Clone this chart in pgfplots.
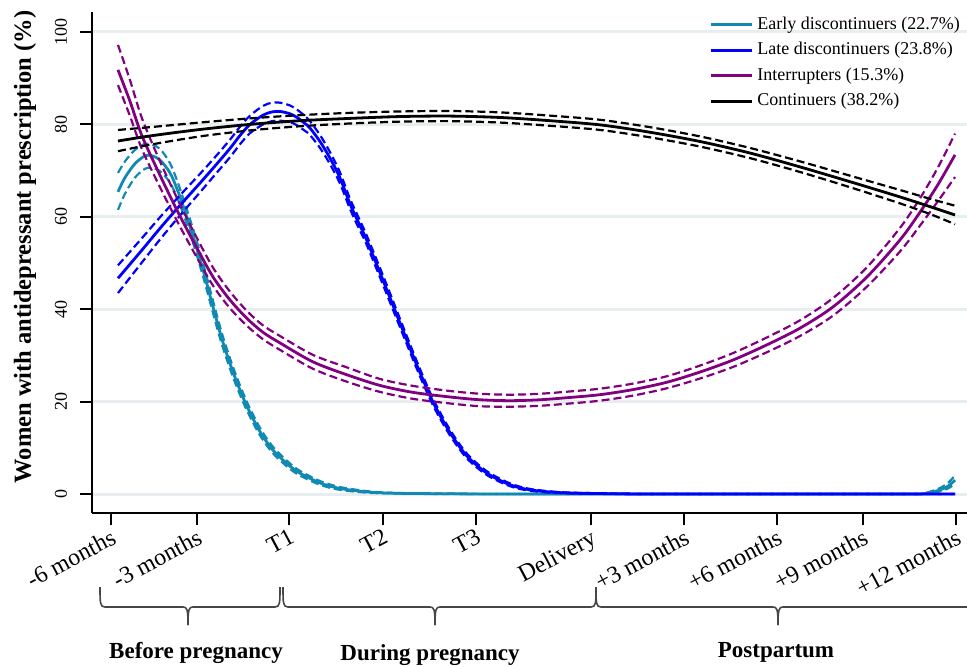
\documentclass[border=0pt]{standalone}
\usepackage{pgfplots}
\usepackage{pgfplotstable}
\pgfplotsset{compat=1.18}
\usepackage{fontspec}
\setmainfont{Liberation Serif}
\definecolor{cteal}{RGB}{16,138,178}
\definecolor{cblue}{RGB}{0,0,255}
\definecolor{cpurple}{RGB}{128,0,128}
\definecolor{cgrid}{RGB}{232,238,240}
\definecolor{cbrace}{RGB}{70,70,70}

% x = position along the time axis (tick positions below), m = estimate, lo/hi = 95% CI
\pgfplotstableread{
x m lo hi
118 65.4 61.5 69.5
125 68.5 65.0 72.0
135 71.5 68.5 74.5
145 73.2 70.4 75.8
152 73.2 70.6 75.6
160 72.3 69.9 74.7
170 69.5 67.4 71.6
178 65.5 63.7 67.3
186 60.5 58.9 62.1
195 54.5 53.0 56.0
205 47.0 45.6 48.4
213 40.5 39.2 41.8
222 33.5 32.3 34.7
232 27.0 25.9 28.1
240 22.5 21.5 23.5
248 18.5 17.6 19.4
260 13.5 12.7 14.3
273 9.5 8.8 10.2
289 6.2 5.6 6.8
300 4.5 4.0 5.0
320 2.4 2.0 2.8
340 1.2 0.9 1.5
370 0.4 0.25 0.55
400 0.15 0.1 0.2
450 0.05 0.0 0.1
500 0 0 0
600 0 0 0
700 0 0 0
800 0 0 0
900 0 0 0
920 0 0 0
930 0.3 0.2 0.5
940 0.9 0.6 1.3
948 1.7 1.2 2.4
955 3.0 2.2 4.0
}\early

\pgfplotstableread{
x m lo hi
118 46.7 43.5 49.5
140 52.3 49.6 54.9
160 57.5 55.1 59.9
178 62.0 59.8 64.2
200 67.3 65.3 69.3
215 71.0 69.1 72.9
230 74.8 72.9 76.7
240 77.6 75.7 79.5
250 80.0 78.1 81.9
263 82.0 80.0 84.0
272 82.7 80.7 84.7
280 82.8 80.8 84.7
290 82.3 80.5 84.1
297 81.5 79.8 83.2
305 80.2 78.6 81.8
310 79.2 77.7 80.7
320 76.3 74.9 77.7
330 72.7 71.4 74.0
340 68.4 67.2 69.6
350 62.8 61.7 63.9
358 59.0 57.9 60.1
367 54.8 53.8 55.8
385 45.2 44.2 46.2
400 37.0 36.1 37.9
418 27.3 26.5 28.1
433 19.9 19.2 20.6
450 13.3 12.7 13.9
467 8.2 7.7 8.7
487 4.5 4.1 4.9
510 2.0 1.7 2.3
530 0.9 0.7 1.1
560 0.3 0.2 0.4
600 0.1 0.05 0.15
650 0 0 0
750 0 0 0
850 0 0 0
955 0 0 0
}\late

\pgfplotstableread{
x m lo hi
118 91.8 88.5 97.2
130 85.0 81.8 89.6
142 77.5 74.6 81.3
160 69.0 66.4 72.0
178 61.0 58.7 63.6
195 54.0 51.9 56.2
213 47.0 45.1 49.0
230 42.0 40.2 43.8
247 38.0 36.4 39.6
263 35.0 33.5 36.5
280 32.7 31.2 34.2
313 28.6 27.1 30.1
347 25.8 24.3 27.4
380 23.5 22.1 24.9
413 22.0 20.6 23.4
450 21.0 19.6 22.3
480 20.4 19.0 21.7
510 20.2 18.9 21.5
540 20.4 19.1 21.7
570 20.9 19.6 22.2
600 21.5 20.2 22.8
633 22.6 21.3 23.9
667 24.2 22.9 25.5
700 26.4 25.0 27.8
733 29.0 27.5 30.5
767 32.3 30.7 33.9
800 35.9 34.2 37.6
833 40.5 38.6 42.4
867 47.0 44.9 49.1
900 55.0 52.5 57.6
920 61.0 58.1 64.0
938 67.0 63.4 70.7
955 73.4 68.6 78.0
}\interr

\pgfplotstableread{
x m lo hi
118 76.4 74.2 78.8
150 77.5 75.6 79.4
200 78.9 77.4 80.4
250 80.0 78.7 81.3
300 80.8 79.6 82.0
350 81.3 80.2 82.5
400 81.7 80.6 82.8
450 81.8 80.7 82.9
500 81.5 80.4 82.6
550 80.8 79.7 81.9
600 79.9 78.8 81.0
650 78.3 77.2 79.4
700 76.3 75.2 77.4
750 73.8 72.7 74.9
800 70.8 69.7 72.0
850 67.6 66.4 68.9
900 64.3 62.9 65.8
930 62.2 60.6 63.9
955 60.4 58.4 62.4
}\cont

\pgfplotsset{cil/.style={line width=1.1pt, dash pattern=on 4pt off 2pt, smooth, forget plot}}
\newcommand{\bracedraw}[3]{%
  \draw[cbrace, line width=0.8pt] (#1,587) .. controls (#1,603) and (#1,607) .. (#1+5,607)
     -- (#3-5,607) .. controls (#3-1,607) and (#3,609) .. (#3,625);
  \draw[cbrace, line width=0.8pt] (#3,625) .. controls (#3,609) and (#3+1,607) .. (#3+5,607)
     -- (#2-5,607) .. controls (#2,607) and (#2,603) .. (#2,587);}

\begin{document}
\begin{tikzpicture}
\begin{axis}[
  at={(46pt,-256.5pt)}, anchor=south west,
  scale only axis, width=437.5pt, height=250.5pt,
  xmin=92, xmax=967, ymin=-4.11, ymax=104.33,
  axis lines=left, axis line style={-, line width=1pt},
  xtick={110.7,196.7,289.3,382.7,475.7,590.7,684,776.7,862.7,955.7},
  xticklabels={-6 months,-3 months,T1,T2,T3,Delivery,+3 months,+6 months,+9 months,+12 months},
  ytick={0,20,40,60,80,100},
  tick align=outside, major tick length=6pt,
  tick style={line width=1pt, black},
  ymajorgrids, grid style={cgrid, line width=1.5pt},
  xticklabel style={rotate=28, anchor=north east, font=\fontsize{12}{14}\selectfont, inner sep=1pt},
  yticklabel style={xshift=-3pt, rotate=90, anchor=south, font=\fontsize{9}{11}\selectfont},
  /pgf/number format/assume math mode=true,
  ylabel={Women with antidepressant prescription (\%)},
  ylabel style={font=\bfseries\fontsize{12.25}{14}\selectfont, at={(rel axis cs:-0.0766,0.531)}, anchor=center},
  legend style={at={(rel axis cs:0.999,1.003)}, anchor=north east, draw=none, fill=none,
    font=\fontsize{9}{11}\selectfont, row sep=1pt, inner sep=1pt},
  legend cell align=left,
  legend image code/.code={\draw[#1, solid, line width=1.4pt] (0pt,0pt) -- (20.5pt,0pt);},
]
\addplot[cteal, line width=1.4pt, smooth] table[x=x, y=m]{\early};
\addlegendentry{Early discontinuers (22.7\%)}
\addplot[cteal, cil] table[x=x, y=lo]{\early};
\addplot[cteal, cil] table[x=x, y=hi]{\early};

\addplot[cblue, line width=1.4pt, smooth] table[x=x, y=m]{\late};
\addlegendentry{Late discontinuers (23.8\%)}
\addplot[cblue, cil] table[x=x, y=lo]{\late};
\addplot[cblue, cil] table[x=x, y=hi]{\late};

\addplot[cpurple, line width=1.4pt, smooth] table[x=x, y=m]{\interr};
\addlegendentry{Interrupters (15.3\%)}
\addplot[cpurple, cil] table[x=x, y=lo]{\interr};
\addplot[cpurple, cil] table[x=x, y=hi]{\interr};

\addplot[black, line width=1.4pt, smooth] table[x=x, y=m]{\cont};
\addlegendentry{Continuers (38.2\%)}
\addplot[black, cil] table[x=x, y=lo]{\cont};
\addplot[black, cil] table[x=x, y=hi]{\cont};
\end{axis}
\begin{scope}[x=0.5pt, y=-0.5pt]
\bracedraw{100}{280}{188}
\bracedraw{283}{596}{435}
\bracedraw{596}{985}{778}
\node[font=\bfseries\fontsize{11.5}{13}\selectfont] at (196,653) {Before pregnancy};
\node[font=\bfseries\fontsize{11.5}{13}\selectfont] at (430,655) {During pregnancy};
\node[font=\bfseries\fontsize{11.5}{13}\selectfont] at (776,652) {Postpartum};
\end{scope}
\pgfresetboundingbox
\useasboundingbox (0pt,0pt) rectangle (483.5pt,-333.5pt);
\end{tikzpicture}
\end{document}
